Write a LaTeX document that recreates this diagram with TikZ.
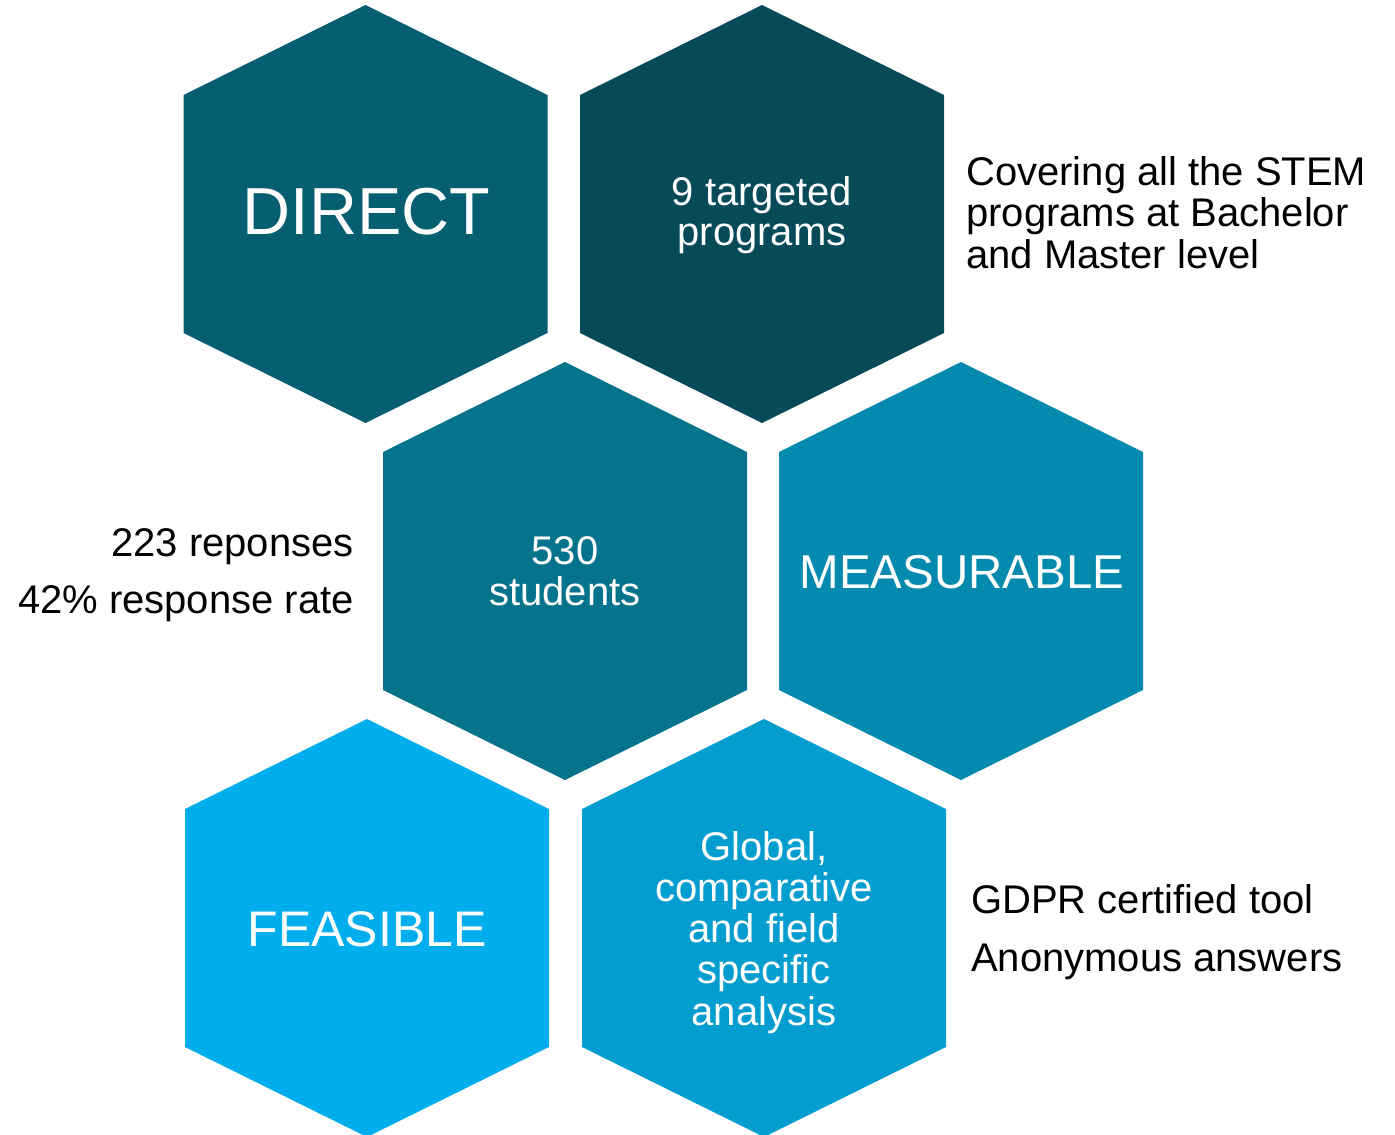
\documentclass[tikz,border=0pt]{standalone}
\usepackage{fontspec}
\setmainfont{Liberation Sans}
\definecolor{hexA}{HTML}{055F70}
\definecolor{hexB}{HTML}{074A58}
\definecolor{hexC}{HTML}{06738C}
\definecolor{hexD}{HTML}{058AAF}
\definecolor{hexE}{HTML}{00AEEE}
\definecolor{hexF}{HTML}{039DD0}
\newcommand\drawhexagon[3]{%
  \fill[#3] (#1,#2-209) -- (#1+182,#2-119) -- (#1+182,#2+119) -- (#1,#2+209)
    -- (#1-182,#2+119) -- (#1-182,#2-119) -- cycle;}
\begin{document}
\begin{tikzpicture}[x=1pt,y=-1pt,
  hexlabel/.style={text=white, align=center, inner sep=0pt},
  sidelabel/.style={text=black, inner sep=0pt}]
\useasboundingbox (0,0) rectangle (1395,1135);
\drawhexagon{365.5}{214}{hexA}
\drawhexagon{762}{214}{hexB}
\drawhexagon{565}{571}{hexC}
\drawhexagon{961}{571}{hexD}
\drawhexagon{367}{928}{hexE}
\drawhexagon{764}{928}{hexF}
% hexagon labels (anchor=base is the baseline of the last line)
\node[hexlabel, anchor=base, font=\fontsize{66.5}{76}\selectfont] (direct) at (366.5,234) {DIRECT};
\node[hexlabel, anchor=base, font=\fontsize{40}{40}\selectfont] (programs) at (762,245) {9 targeted\\programs};
\node[hexlabel, anchor=base, font=\fontsize{40}{41}\selectfont] (students) at (565,605) {530\\students};
\node[hexlabel, anchor=base, font=\fontsize{47.5}{54}\selectfont] (measurable) at (962,588) {MEASURABLE};
\node[hexlabel, anchor=base, font=\fontsize{50}{58}\selectfont] (feasible) at (367,946) {FEASIBLE};
\node[hexlabel, anchor=base, font=\fontsize{40}{41.25}\selectfont] (analysis) at (764,1025) {Global,\\comparative\\and field\\specific\\analysis};
% side texts
\node[sidelabel, anchor=base west, align=left, font=\fontsize{40}{41.5}\selectfont] (stem) at (966,268) {Covering all the STEM\\programs at Bachelor\\and Master level};
\node[sidelabel, anchor=base east, align=right, font=\fontsize{40}{57}\selectfont] (responses) at (354,613) {223 reponses\\42\% response rate};
\node[sidelabel, anchor=base west, align=left, font=\fontsize{40}{57.5}\selectfont] (gdpr) at (971,971) {GDPR certified tool\\Anonymous answers};
\end{tikzpicture}
\end{document}
